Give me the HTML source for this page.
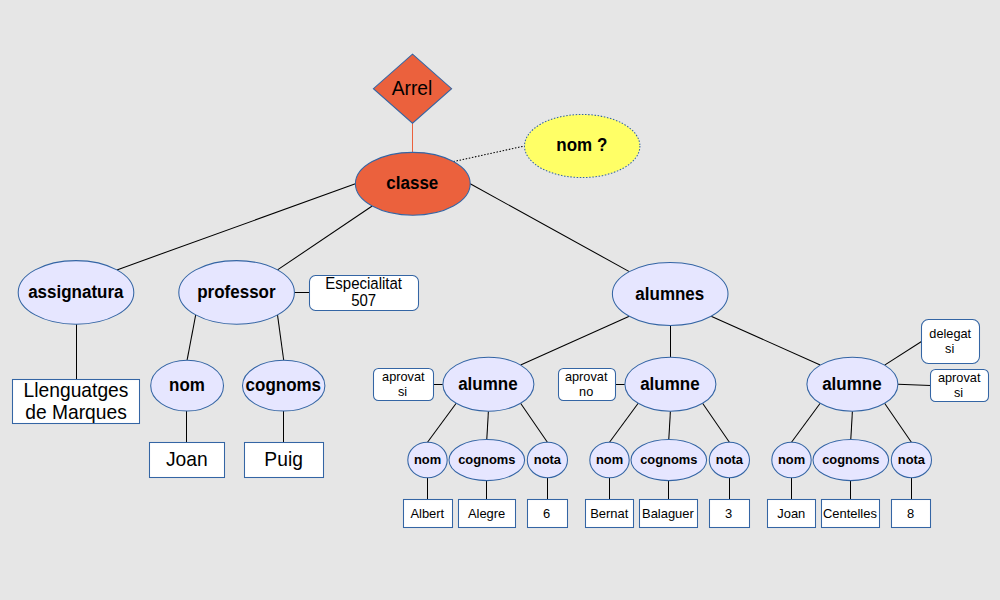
<!DOCTYPE html>
<html><head><meta charset="utf-8"><title>Arbre XML</title>
<style>
html,body{margin:0;padding:0;background:#e6e6e6;}
body{width:1000px;height:600px;overflow:hidden;}
svg{display:block;}
text{font-family:"Liberation Sans",sans-serif;fill:#000;text-anchor:middle;}
</style></head><body>
<svg width="1000" height="600" viewBox="0 0 1000 600">
<rect x="0" y="0" width="1000" height="600" fill="#e6e6e6"/>
<line x1="412.5" y1="123.0" x2="412.5" y2="152.0" stroke="#eb613d" stroke-width="1.05" />
<line x1="453.4" y1="161.6" x2="524.5" y2="146.0" stroke="#000" stroke-width="1.05" stroke-dasharray="1.5 1.65"/>
<line x1="355.4" y1="183.8" x2="116.9" y2="269.9" stroke="#000" stroke-width="1.05" />
<line x1="372.2" y1="206.0" x2="277.5" y2="269.9" stroke="#000" stroke-width="1.05" />
<line x1="470.2" y1="183.8" x2="629.3" y2="271.6" stroke="#000" stroke-width="1.05" />
<line x1="76.5" y1="324.0" x2="76.5" y2="379.5" stroke="#000" stroke-width="1.05" />
<line x1="294.0" y1="292.5" x2="309.5" y2="292.5" stroke="#000" stroke-width="1.05" />
<line x1="195.7" y1="314.9" x2="187.1" y2="360.2" stroke="#000" stroke-width="1.05" />
<line x1="277.5" y1="314.9" x2="283.7" y2="360.2" stroke="#000" stroke-width="1.05" />
<line x1="186.5" y1="411.0" x2="186.5" y2="442.5" stroke="#000" stroke-width="1.05" />
<line x1="283.5" y1="411.0" x2="283.5" y2="442.5" stroke="#000" stroke-width="1.05" />
<line x1="456.2" y1="403.3" x2="427.5" y2="442.3" stroke="#000" stroke-width="1.05" />
<line x1="488.4" y1="411.2" x2="486.8" y2="439.4" stroke="#000" stroke-width="1.05" />
<line x1="520.6" y1="403.3" x2="547.4" y2="442.3" stroke="#000" stroke-width="1.05" />
<line x1="427.5" y1="477.5" x2="427.5" y2="499.5" stroke="#000" stroke-width="1.05" />
<line x1="486.5" y1="480.5" x2="486.5" y2="499.5" stroke="#000" stroke-width="1.05" />
<line x1="547.5" y1="477.5" x2="547.5" y2="499.5" stroke="#000" stroke-width="1.05" />
<line x1="638.2" y1="403.3" x2="609.5" y2="442.3" stroke="#000" stroke-width="1.05" />
<line x1="670.4" y1="411.2" x2="668.8" y2="439.4" stroke="#000" stroke-width="1.05" />
<line x1="702.6" y1="403.3" x2="729.4" y2="442.3" stroke="#000" stroke-width="1.05" />
<line x1="609.5" y1="477.5" x2="609.5" y2="499.5" stroke="#000" stroke-width="1.05" />
<line x1="668.5" y1="480.5" x2="668.5" y2="499.5" stroke="#000" stroke-width="1.05" />
<line x1="729.5" y1="477.5" x2="729.5" y2="499.5" stroke="#000" stroke-width="1.05" />
<line x1="820.2" y1="403.3" x2="791.5" y2="442.3" stroke="#000" stroke-width="1.05" />
<line x1="852.4" y1="411.2" x2="850.8" y2="439.4" stroke="#000" stroke-width="1.05" />
<line x1="884.6" y1="403.3" x2="911.4" y2="442.3" stroke="#000" stroke-width="1.05" />
<line x1="791.5" y1="477.5" x2="791.5" y2="499.5" stroke="#000" stroke-width="1.05" />
<line x1="850.5" y1="480.5" x2="850.5" y2="499.5" stroke="#000" stroke-width="1.05" />
<line x1="911.5" y1="477.5" x2="911.5" y2="499.5" stroke="#000" stroke-width="1.05" />
<line x1="629.3" y1="316.2" x2="520.6" y2="365.1" stroke="#000" stroke-width="1.05" />
<line x1="670.5" y1="325.0" x2="670.5" y2="357.5" stroke="#000" stroke-width="1.05" />
<line x1="711.1" y1="316.2" x2="820.2" y2="365.1" stroke="#000" stroke-width="1.05" />
<line x1="433.5" y1="384.5" x2="443.0" y2="384.5" stroke="#000" stroke-width="1.05" />
<line x1="615.5" y1="384.5" x2="625.0" y2="384.5" stroke="#000" stroke-width="1.05" />
<line x1="884.6" y1="365.1" x2="921.5" y2="341.5" stroke="#000" stroke-width="1.05" />
<line x1="897.9" y1="384.2" x2="930.5" y2="385.5" stroke="#000" stroke-width="1.05" />
<polygon points="412.5,54.2 451.6,88.7 412.5,123.2 373.4,88.7" fill="#eb613d" stroke="#3465a4" stroke-width="1.05"/>
<ellipse cx="412.8" cy="183.8" rx="57.4" ry="31.45" fill="#eb613d" stroke="#3465a4" stroke-width="1.05" />
<ellipse cx="582.2" cy="146.0" rx="57.7" ry="31.55" fill="#ffff66" stroke="#3465a4" stroke-width="1.05" stroke-dasharray="1.5 1.65"/>
<ellipse cx="76" cy="292.4" rx="57.8" ry="31.8" fill="#e6e6ff" stroke="#3465a4" stroke-width="1.05" />
<ellipse cx="236.6" cy="292.4" rx="57.8" ry="31.8" fill="#e6e6ff" stroke="#3465a4" stroke-width="1.05" />
<ellipse cx="670.2" cy="293.9" rx="57.8" ry="31.5" fill="#e6e6ff" stroke="#3465a4" stroke-width="1.05" />
<ellipse cx="187.1" cy="385.65" rx="36.4" ry="25.4" fill="#e6e6ff" stroke="#3465a4" stroke-width="1.05" />
<ellipse cx="283.7" cy="385.65" rx="41.2" ry="25.4" fill="#e6e6ff" stroke="#3465a4" stroke-width="1.05" />
<ellipse cx="488.4" cy="384.2" rx="45.5" ry="27" fill="#e6e6ff" stroke="#3465a4" stroke-width="1.05" />
<ellipse cx="427.5" cy="460" rx="19.7" ry="17.7" fill="#e6e6ff" stroke="#3465a4" stroke-width="1.05" />
<ellipse cx="486.8" cy="460" rx="37.8" ry="20.6" fill="#e6e6ff" stroke="#3465a4" stroke-width="1.05" />
<ellipse cx="547.4" cy="460" rx="20.1" ry="17.7" fill="#e6e6ff" stroke="#3465a4" stroke-width="1.05" />
<ellipse cx="670.4" cy="384.2" rx="45.5" ry="27" fill="#e6e6ff" stroke="#3465a4" stroke-width="1.05" />
<ellipse cx="609.5" cy="460" rx="19.7" ry="17.7" fill="#e6e6ff" stroke="#3465a4" stroke-width="1.05" />
<ellipse cx="668.8" cy="460" rx="37.8" ry="20.6" fill="#e6e6ff" stroke="#3465a4" stroke-width="1.05" />
<ellipse cx="729.4" cy="460" rx="20.1" ry="17.7" fill="#e6e6ff" stroke="#3465a4" stroke-width="1.05" />
<ellipse cx="852.4" cy="384.2" rx="45.5" ry="27" fill="#e6e6ff" stroke="#3465a4" stroke-width="1.05" />
<ellipse cx="791.5" cy="460" rx="19.7" ry="17.7" fill="#e6e6ff" stroke="#3465a4" stroke-width="1.05" />
<ellipse cx="850.8" cy="460" rx="37.8" ry="20.6" fill="#e6e6ff" stroke="#3465a4" stroke-width="1.05" />
<ellipse cx="911.4" cy="460" rx="20.1" ry="17.7" fill="#e6e6ff" stroke="#3465a4" stroke-width="1.05" />
<rect x="12.5" y="379.5" width="127" height="44" rx="0" ry="0" fill="#fff" stroke="#3465a4" stroke-width="1.05"/>
<rect x="149.5" y="442.5" width="75" height="35" rx="0" ry="0" fill="#fff" stroke="#3465a4" stroke-width="1.05"/>
<rect x="244.5" y="442.5" width="79" height="35" rx="0" ry="0" fill="#fff" stroke="#3465a4" stroke-width="1.05"/>
<rect x="309.5" y="275.5" width="109" height="35" rx="6" ry="6" fill="#fff" stroke="#3465a4" stroke-width="1.05"/>
<rect x="373.5" y="368.5" width="60" height="32" rx="5" ry="5" fill="#fff" stroke="#3465a4" stroke-width="1.05"/>
<rect x="558.5" y="368.5" width="57" height="32" rx="5" ry="5" fill="#fff" stroke="#3465a4" stroke-width="1.05"/>
<rect x="921.5" y="319.5" width="58" height="44" rx="7" ry="7" fill="#fff" stroke="#3465a4" stroke-width="1.05"/>
<rect x="930.5" y="369.5" width="58" height="32" rx="5" ry="5" fill="#fff" stroke="#3465a4" stroke-width="1.05"/>
<rect x="403.5" y="499.5" width="49" height="28" rx="0" ry="0" fill="#fff" stroke="#3465a4" stroke-width="1.05"/>
<rect x="458.5" y="499.5" width="57" height="28" rx="0" ry="0" fill="#fff" stroke="#3465a4" stroke-width="1.05"/>
<rect x="527.5" y="499.5" width="40" height="28" rx="0" ry="0" fill="#fff" stroke="#3465a4" stroke-width="1.05"/>
<rect x="585.5" y="499.5" width="48" height="28" rx="0" ry="0" fill="#fff" stroke="#3465a4" stroke-width="1.05"/>
<rect x="639.5" y="499.5" width="58" height="28" rx="0" ry="0" fill="#fff" stroke="#3465a4" stroke-width="1.05"/>
<rect x="709.5" y="499.5" width="40" height="28" rx="0" ry="0" fill="#fff" stroke="#3465a4" stroke-width="1.05"/>
<rect x="767.5" y="499.5" width="48" height="28" rx="0" ry="0" fill="#fff" stroke="#3465a4" stroke-width="1.05"/>
<rect x="821.5" y="499.5" width="58" height="28" rx="0" ry="0" fill="#fff" stroke="#3465a4" stroke-width="1.05"/>
<rect x="891.5" y="499.5" width="39" height="28" rx="0" ry="0" fill="#fff" stroke="#3465a4" stroke-width="1.05"/>
<text transform="translate(412.0 94.8) scale(0.95 1)" font-size="20.26">Arrel</text>
<text transform="translate(412.3 188.8) scale(0.95 1)" font-size="17.89" font-weight="bold">classe</text>
<text transform="translate(581.8 151.4) scale(0.95 1)" font-size="17.89" font-weight="bold">nom ?</text>
<text transform="translate(75.8 297.6) scale(0.95 1)" font-size="17.89" font-weight="bold">assignatura</text>
<text transform="translate(236.4 297.6) scale(0.95 1)" font-size="17.89" font-weight="bold">professor</text>
<text transform="translate(669.8 300) scale(0.95 1)" font-size="17.89" font-weight="bold">alumnes</text>
<text transform="translate(187.0 390.6) scale(0.95 1)" font-size="17.89" font-weight="bold">nom</text>
<text transform="translate(283.3 390.6) scale(0.95 1)" font-size="17.89" font-weight="bold">cognoms</text>
<text transform="translate(76 396.8) scale(0.95 1)" font-size="20.26">Llenguatges</text>
<text transform="translate(76 418.7) scale(0.95 1)" font-size="20.26">de Marques</text>
<text transform="translate(186.8 465.8) scale(0.95 1)" font-size="20.26">Joan</text>
<text transform="translate(283.6 465.8) scale(0.95 1)" font-size="20.26">Puig</text>
<text transform="translate(363.7 288.7) scale(0.93 1)" font-size="16.13">Especialitat</text>
<text transform="translate(363.7 305.7) scale(0.93 1)" font-size="16.13">507</text>
<text transform="translate(487.9 390.0) scale(0.95 1)" font-size="17.89" font-weight="bold">alumne</text>
<text x="427.5" y="464.0" font-size="12.9" font-weight="bold">nom</text>
<text x="486.8" y="464.0" font-size="12.9" font-weight="bold">cognoms</text>
<text x="547.4" y="464.0" font-size="12.9" font-weight="bold">nota</text>
<text transform="translate(669.9 390.0) scale(0.95 1)" font-size="17.89" font-weight="bold">alumne</text>
<text x="609.5" y="464.0" font-size="12.9" font-weight="bold">nom</text>
<text x="668.8" y="464.0" font-size="12.9" font-weight="bold">cognoms</text>
<text x="729.4" y="464.0" font-size="12.9" font-weight="bold">nota</text>
<text transform="translate(851.9 390.0) scale(0.95 1)" font-size="17.89" font-weight="bold">alumne</text>
<text x="791.5" y="464.0" font-size="12.9" font-weight="bold">nom</text>
<text x="850.8" y="464.0" font-size="12.9" font-weight="bold">cognoms</text>
<text x="911.4" y="464.0" font-size="12.9" font-weight="bold">nota</text>
<text transform="translate(403.3 381.3) scale(0.97 1)" font-size="13.14">aprovat</text>
<text transform="translate(402.6 395.7) scale(0.97 1)" font-size="13.14">si</text>
<text transform="translate(586.2 381.3) scale(0.97 1)" font-size="13.14">aprovat</text>
<text transform="translate(586.2 395.7) scale(0.97 1)" font-size="13.14">no</text>
<text transform="translate(950.2 338) scale(0.97 1)" font-size="13.14">delegat</text>
<text transform="translate(949.7 353) scale(0.97 1)" font-size="13.14">si</text>
<text transform="translate(959.2 382.3) scale(0.97 1)" font-size="13.14">aprovat</text>
<text transform="translate(958.6 396.7) scale(0.97 1)" font-size="13.14">si</text>
<text x="427.3" y="518.0" font-size="12.95">Albert</text>
<text x="486.6" y="518.0" font-size="12.95">Alegre</text>
<text x="546.7" y="518.0" font-size="12.95">6</text>
<text x="609.3" y="518.0" font-size="12.95">Bernat</text>
<text x="667.9" y="518.0" font-size="12.95">Balaguer</text>
<text x="728.7" y="518.0" font-size="12.95">3</text>
<text x="791.3" y="518.0" font-size="12.95">Joan</text>
<text x="849.9" y="518.0" font-size="12.95">Centelles</text>
<text x="910.7" y="518.0" font-size="12.95">8</text>
</svg>
</body></html>
